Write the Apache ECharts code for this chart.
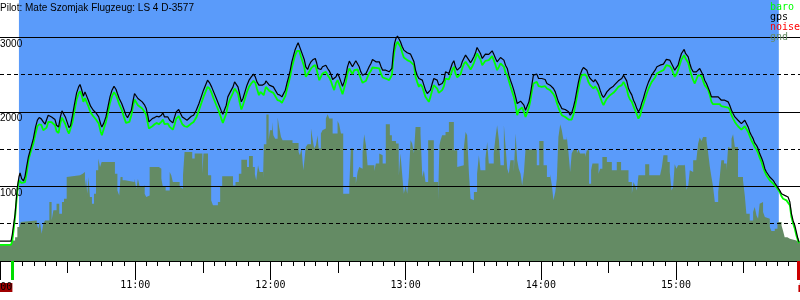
<!DOCTYPE html>
<html>
<head>
<meta charset="utf-8">
<script src="https://cdn.jsdelivr.net/npm/echarts@6/dist/echarts.min.js"></script>
<style>html,body{margin:0;padding:0;background:#fff}#c{width:800px;height:300px}</style>
</head>
<body>
<div id="c"></div>
<script>
// ---- data (minutes after 10:00, altitude in metres) ----
const titleText = 'Pilot: Mate Szomjak Flugzeug: LS 4 D-3577';
const legendNames = ['baro', 'gps', 'noise', 'gnd'];
const hourTicks = [0, 60, 120, 180, 240, 300];
const skyWindow = [8.4, 345.6];
const takeoffMinute = [5.5];
const landingMinute = [354.3];
const takeoffLabel = '10:00';
const landingLabel = '15:54';

const flightMinutes = [
0,4.9,5.5,6.7,7.7,8.4,8.9,9.6,10.4,11.1,11.8,12.6,13.6,14.8,15.8,16.6,17.4,18.3,19.2,20.0,20.7,21.4,22.2,22.9,23.7,24.4,25.1,26.0,26.8,27.5,28.1,29.0,29.9,30.6,31.3,32.2,33.1,34.0,34.9,35.5,36.1,37.0,37.7,38.4,39.2,40.2,41.4,42.6,43.8,44.7,45.2,46.1,47.0,47.9,48.8,49.7,50.6,51.5,52.1,52.9,54.0,55.0,55.9,56.6,57.4,58.3,59.1,
59.7,60.5,61.2,62.0,63.1,64.2,64.9,65.7,66.1,66.7,67.6,68.6,69.6,70.5,71.6,72.3,73.0,73.8,74.5,75.3,76.0,76.7,77.5,78.2,79.3,80.0,80.9,81.9,83.0,83.8,84.9,85.9,87.1,88.3,89.3,90.3,91.2,92.1,93.0,93.9,94.8,96.0,97.2,98.2,98.9,99.7,100.4,101.1,102.2,103.4,104.1,104.8,105.6,106.3,107.1,107.8,108.7,109.6,110.5,111.5,112.5,113.3,114.0,114.9,115.6,116.4,117.0,117.6,
118.0,118.7,119.5,120.2,121.3,122.1,123.2,124.2,125.1,125.8,126.6,127.3,128.1,128.8,129.5,130.3,131.0,131.8,132.3,132.8,133.5,134.3,135.0,135.7,136.5,137.2,138.0,139.0,139.9,140.5,141.1,141.7,142.4,143.1,143.9,144.6,145.4,146.1,146.8,147.6,148.3,149.1,149.8,150.5,151.3,152.0,152.7,153.5,154.2,155.0,155.7,156.4,157.2,157.9,158.7,159.4,160.1,160.9,161.6,162.4,163.1,163.8,164.6,165.3,166.1,166.8,167.5,168.3,169.0,169.8,170.5,171.2,172.0,172.7,173.5,173.9,174.5,175.1,175.7,176.4,177.1,
177.7,178.5,179.2,180.0,180.7,181.4,182.2,182.9,183.7,184.4,185.1,185.9,186.6,187.4,188.1,188.8,189.6,190.3,191.0,191.8,192.5,193.3,194.0,194.7,195.5,196.2,197.0,197.7,198.4,199.2,199.9,200.7,201.4,202.1,202.9,203.6,204.4,205.1,205.8,206.6,207.3,208.1,208.8,209.5,210.3,211.0,211.7,212.5,213.2,214.0,214.7,215.4,216.2,216.9,217.7,218.4,219.1,219.9,220.6,221.4,222.1,222.8,223.6,224.3,225.1,225.8,226.5,227.3,228.0,228.8,229.5,230.2,231.0,231.7,232.5,233.2,233.9,234.7,235.4,236.1,
236.7,237.5,238.2,239.0,239.7,240.4,241.2,241.9,242.7,243.4,244.1,244.9,245.6,246.4,247.1,247.8,248.6,249.3,250.0,250.8,251.5,252.3,253.0,253.7,254.5,255.2,256.0,256.7,257.4,258.2,258.9,259.7,260.4,261.1,261.9,262.6,263.4,264.1,264.8,265.6,266.3,267.1,267.8,268.5,269.3,270.0,270.7,271.5,272.2,273.0,273.7,274.4,275.2,275.9,276.7,277.4,278.1,278.9,279.6,280.4,281.1,281.8,282.6,283.3,284.1,284.8,285.5,286.3,287.0,287.8,288.5,289.2,290.0,290.7,291.5,292.2,292.9,293.7,294.4,295.1,
295.7,296.5,297.2,298.0,298.7,299.4,300.2,300.9,301.7,302.4,303.1,303.6,304.2,304.6,305.4,306.1,306.8,307.6,308.3,309.0,309.8,310.5,311.3,312.0,312.7,313.5,314.2,315.0,315.7,316.4,317.2,317.9,318.7,319.4,320.1,320.9,321.6,322.4,323.1,323.8,324.6,325.3,326.1,326.8,327.5,328.3,329.0,329.7,330.5,331.2,332.0,332.7,333.4,334.2,334.9,335.7,336.4,337.1,337.9,338.6,339.4,340.1,340.8,341.6,342.3,343.1,343.8,344.5,345.3,346.0,346.8,347.5,348.2,349.0,349.7,350.5,351.2,351.9,352.7,353.4,354.1,354.6
];

const gpsAlt = [
267,267,365,634,992,1126,1180,1104,1073,1135,1261,1395,1507,1641,1798,1888,1923,1906,1865,1834,1897,1955,1959,1932,1919,1897,1820,1798,1932,2013,2000,1932,1852,1789,1816,1955,2112,2255,2335,2367,2313,2210,2268,2255,2156,2076,2022,1986,1932,1834,1798,1852,1932,2067,2201,2291,2344,2300,2246,2179,2112,2031,1955,1923,1941,2022,2156,
2246,2255,2179,2156,2134,2089,2044,1932,1865,1888,1910,1923,1941,1932,1955,1986,1932,1910,1932,1888,1865,1852,1932,2000,2031,1986,1932,1910,1888,1910,1941,1955,2022,2112,2201,2291,2358,2425,2389,2335,2268,2179,2089,2013,1968,1977,2089,2201,2268,2335,2402,2389,2335,2246,2134,2179,2268,2358,2425,2470,2506,2470,2402,2358,2380,2358,2335,2380,
2416,2402,2358,2335,2335,2313,2237,2224,2201,2210,2291,2380,2470,2559,2671,2761,2837,2895,2926,2909,2828,2761,2703,2604,2568,2626,2671,2703,2716,2658,2582,2559,2568,2604,2604,2626,2582,2550,2506,2434,2412,2470,2515,2470,2402,2344,2402,2492,2604,2680,2658,2604,2649,2685,2671,2604,2537,2492,2470,2515,2559,2604,2649,2703,2694,2671,2694,2671,2613,2559,2559,2559,2550,2537,2515,2582,2783,2918,2985,3016,3007,
2940,2873,2828,2806,2792,2783,2774,2761,2671,2559,2492,2447,2470,2425,2358,2291,2246,2224,2291,2380,2447,2470,2425,2358,2358,2380,2425,2537,2559,2515,2524,2649,2685,2604,2559,2582,2604,2671,2716,2761,2738,2694,2658,2694,2738,2792,2864,2850,2783,2716,2738,2774,2783,2770,2783,2819,2774,2716,2671,2694,2729,2716,2694,2626,2582,2492,2425,2358,2291,2201,2112,2134,2143,2156,2089,2022,2076,2134,2246,2380,
2492,2515,2506,2447,2461,2447,2461,2434,2380,2389,2358,2344,2313,2268,2201,2134,2089,2044,2031,2031,2022,2000,1955,1986,2067,2156,2291,2402,2492,2559,2595,2582,2559,2492,2447,2425,2402,2434,2402,2358,2291,2224,2192,2224,2268,2291,2313,2335,2344,2371,2389,2416,2402,2447,2492,2492,2416,2313,2268,2224,2156,2112,2044,2000,2044,2120,2179,2268,2335,2402,2447,2492,2515,2559,2604,2626,2626,2635,2640,2658,
2703,2716,2694,2671,2604,2559,2582,2626,2716,2783,2806,2837,2783,2761,2738,2649,2582,2537,2515,2537,2559,2582,2568,2492,2425,2380,2358,2268,2201,2179,2201,2192,2201,2179,2156,2134,2156,2165,2134,2089,2022,1977,1932,1910,1888,1879,1843,1834,1888,1865,1798,1731,1686,1641,1583,1552,1507,1440,1386,1328,1238,1194,1171,1126,1104,1082,1046,1014,992,947,902,880,880,880,858,791,634,544,477,387,298,253
];

const baroAlt = [
217,217,276,589,947,1082,1095,1046,1028,1059,1171,1350,1462,1574,1709,1807,1834,1825,1753,1731,1789,1865,1888,1861,1843,1820,1740,1717,1852,1923,1910,1834,1753,1709,1731,1865,2022,2165,2246,2277,2237,2134,2183,2174,2076,1991,1941,1897,1843,1731,1686,1776,1865,1986,2120,2210,2264,2223,2174,2103,2031,1932,1852,1834,1865,1955,2089,
2165,2156,2089,2067,2044,2000,1955,1834,1776,1789,1807,1834,1852,1834,1865,1897,1834,1820,1843,1798,1776,1762,1834,1910,1941,1897,1834,1807,1798,1807,1843,1865,1923,2022,2112,2201,2268,2335,2313,2255,2179,2089,2000,1910,1852,1865,1977,2089,2179,2255,2313,2300,2246,2134,2031,2089,2179,2268,2335,2380,2416,2389,2313,2224,2268,2246,2224,2291,
2335,2322,2282,2268,2255,2237,2156,2147,2120,2134,2210,2300,2389,2479,2591,2685,2761,2819,2837,2819,2747,2671,2604,2470,2492,2537,2582,2613,2626,2568,2492,2425,2470,2515,2515,2537,2492,2461,2416,2344,2291,2389,2425,2371,2300,2237,2313,2402,2515,2582,2559,2506,2559,2582,2568,2506,2447,2389,2371,2416,2470,2515,2550,2595,2604,2591,2604,2582,2515,2461,2447,2447,2434,2425,2416,2492,2694,2828,2895,2940,2926,
2873,2792,2729,2703,2694,2685,2671,2658,2626,2470,2402,2335,2371,2335,2268,2201,2165,2134,2201,2291,2358,2380,2313,2255,2268,2291,2344,2447,2470,2434,2447,2559,2604,2515,2461,2447,2506,2582,2640,2671,2649,2604,2568,2604,2658,2716,2783,2761,2703,2626,2649,2685,2703,2694,2703,2747,2694,2626,2559,2604,2649,2640,2604,2524,2492,2416,2344,2268,2201,2089,1955,2022,2044,2058,2000,1932,1986,2058,2156,2291,
2380,2402,2402,2344,2358,2335,2358,2344,2313,2313,2291,2268,2237,2192,2120,2058,2000,1955,1941,1932,1923,1897,1879,1897,1968,2067,2201,2313,2425,2492,2515,2501,2470,2402,2358,2335,2313,2344,2313,2268,2201,2134,2089,2134,2179,2201,2224,2246,2255,2282,2300,2335,2313,2358,2402,2402,2313,2210,2165,2134,2076,2022,1968,1910,1955,2044,2103,2179,2246,2313,2358,2402,2434,2461,2515,2537,2537,2550,2559,2582,
2626,2649,2613,2582,2524,2470,2506,2559,2640,2703,2729,2761,2716,2694,2658,2568,2492,2425,2380,2434,2492,2506,2479,2416,2358,2335,2300,2224,2134,2103,2089,2103,2120,2103,2076,2058,2067,2089,2058,2031,1955,1910,1865,1834,1807,1798,1762,1753,1807,1798,1731,1673,1619,1574,1530,1494,1449,1386,1328,1261,1194,1149,1117,1082,1059,1037,1014,992,970,925,867,835,813,813,813,746,589,508,432,343,276,240
];

const noiseAlt = [];

const gndMinutes = [
0,5.2,6.7,7.7,8.6,9.2,9.8,16.3,17.0,17.7,18.5,19.2,20.0,21.9,22.9,23.7,25.1,26.3,27.5,28.4,29.6,30.3,35.5,36.7,37.7,38.2,38.7,39.3,39.9,40.8,41.7,42.6,43.6,44.4,45.1,51.0,52.1,52.9,53.5,54.4,55.5,
59.7,60.5,61.2,62.0,63.1,64.2,64.9,65.7,66.4,70.5,71.6,72.3,73.5,75.3,76.0,76.7,79.7,80.4,81.2,81.9,85.3,86.4,89.8,90.3,92.3,93.7,94.5,96.7,97.7,98.6,103.4,104.5,106.0,107.1,109.6,110.5,112.2,113.1,113.7,114.5,115.2,116.7,117.1,
118.2,119.2,119.8,120.7,121.3,122.1,123.2,123.9,124.7,125.4,129.8,132.5,133.1,133.8,134.6,135.0,135.7,136.5,138.0,138.7,139.4,140.2,140.9,141.4,142.4,143.1,143.9,144.6,145.4,146.1,147.6,149.8,150.5,151.3,152.3,155.0,155.7,156.7,157.9,158.7,159.4,160.1,160.9,161.6,162.4,163.1,166.1,166.8,168.3,169.0,169.8,171.2,173.0,173.9,175.7,176.9,
177.0,177.7,178.5,179.2,180.0,180.7,181.4,182.2,182.9,183.7,184.4,186.6,187.4,188.1,188.8,190.0,192.5,194.4,195.0,195.5,196.2,197.7,199.2,201.4,202.9,203.6,205.8,206.6,207.3,208.1,208.8,209.5,210.3,211.7,212.5,213.2,215.4,216.2,216.9,219.1,219.9,220.6,221.4,222.1,223.6,224.3,225.1,225.8,226.5,228.0,228.8,229.5,230.2,231.0,231.7,232.5,233.2,
236.0,238.2,239.3,241.2,242.7,244.1,244.9,245.6,246.4,247.1,247.8,248.6,249.3,250.0,251.5,252.3,253.0,253.7,254.5,256.0,256.7,257.4,259.7,260.4,261.4,262.3,262.9,265.6,266.3,267.3,269.3,271.5,273.7,275.6,278.9,280.4,281.1,281.8,282.6,283.3,286.3,288.1,292.9,293.7,294.4,
296.2,297.2,298.0,298.7,299.4,300.2,300.9,303.9,304.6,305.4,306.1,306.8,307.6,309.0,309.8,310.5,311.3,312.0,313.5,314.2,315.0,315.7,316.4,317.2,318.7,319.4,320.1,321.3,322.4,323.1,323.8,324.6,325.3,326.1,327.5,329.7,330.5,331.2,332.7,334.2,334.9,335.7,336.4,337.1,337.9,338.6,339.4,340.1,341.6,342.3,343.8,345.0,346.8,347.5,348.2,349.4,350.5,353.4,355
];

const gndAlt = [
217,276,320,455,477,522,544,499,432,522,365,499,544,790,544,679,768,634,790,835,1126,1149,1171,1194,992,1104,902,1126,858,768,902,1216,1373,1261,1328,1171,947,880,1126,1082,1059,
1104,970,1104,992,1014,902,858,880,1261,1238,1104,992,947,1194,1149,1059,992,970,1149,1462,1373,1440,1171,1440,1149,813,746,790,992,1135,1014,1059,1171,1359,1261,1408,1261,1162,1082,1283,1194,1082,1565,
1965,1619,1753,1865,1686,1641,1923,1789,1664,1619,1583,1462,1417,1507,1216,1328,1529,1565,1776,1641,1507,1552,1686,1507,1709,1753,1776,1910,1968,1910,1709,1879,1834,1709,902,1014,1507,1126,1037,1194,1261,1238,1462,1700,1552,1283,1207,1306,1440,1417,1306,1834,1686,1610,1574,1597,
1149,1440,1149,902,1014,902,1126,1619,1574,1440,1798,1709,1126,1216,1059,1619,1059,813,1552,1619,1686,1731,1865,1485,1261,1283,1507,1731,1686,1171,835,813,925,1171,1417,1216,1373,1597,1306,1440,1664,1820,1619,1283,1820,1552,1238,1171,1350,1194,1709,1350,1238,1171,1014,1194,1498,
1494,1283,1610,1283,1126,1162,1014,813,925,1104,1664,1834,1753,1628,1673,1440,1194,1440,1494,1440,1494,1440,1395,1485,1037,1216,1306,1171,1238,1395,1328,1216,1328,1216,1059,902,1059,1014,947,1149,1296,1149,1171,1261,1417,
1328,1194,947,992,1296,1238,1283,1314,956,1014,1216,1194,1350,1328,1574,1655,1610,1664,1619,1462,1261,1126,1001,790,925,1126,1350,1306,1216,1529,1507,1641,1700,1529,1126,1082,880,634,544,656,723,611,567,768,790,656,589,567,455,401,432,522,477,401,320,298,276,253,253
];

// ---- build ----
function pairs(xs, ys) {
  const n = Math.min(xs.length, ys.length);
  const out = [];
  for (let i = 0; i < n; i++) out.push([xs[i], ys[i]]);
  return out;
}
const X_MIN = 0, X_MAX = 355;
const SKY = '#5a9bfa', GND = '#648b64';
const mono = 'DejaVu Sans Mono';

function tickAxis(interval, len, extra) {
  return Object.assign({
    type: 'value', min: X_MIN, max: X_MAX, interval: interval, position: 'bottom',
    axisLine: { show: false }, splitLine: { show: false },
    axisLabel: { show: false },
    axisTick: { show: true, length: len, lineStyle: { color: '#000', width: 1 } },
    z: 3
  }, extra || {});
}

const chart = echarts.init(document.getElementById('c'), null, { renderer: 'canvas' });
chart.setOption({
  animation: false,
  backgroundColor: '#fff',
  title: {
    text: titleText, left: 0, top: 3, padding: 0,
    textStyle: { fontFamily: 'Liberation Sans', fontSize: 10, fontWeight: 'normal', color: '#000' }
  },
  legend: {
    orient: 'vertical', left: 765, top: 2, padding: 0, itemGap: 0,
    itemWidth: 0, itemHeight: 0, icon: 'rect', selectedMode: false,
    textStyle: { fontFamily: mono, fontSize: 10, lineHeight: 10 },
    data: [
      { name: legendNames[0], textStyle: { color: '#00ff00' } },
      { name: legendNames[1], textStyle: { color: '#000000' } },
      { name: legendNames[2], textStyle: { color: '#ff0000' } },
      { name: legendNames[3], textStyle: { color: GND } }
    ]
  },
  grid: { left: 0, right: 0, top: 0, bottom: 39, containLabel: false, outerBoundsMode: 'none' },
  xAxis: [
    tickAxis(5, 5, { axisLine: { show: true, lineStyle: { color: '#000', width: 1 } } }),
    tickAxis(30, 12),
    tickAxis(60, 19, {
      axisLabel: {
        show: true, margin: 19, fontFamily: mono, fontSize: 10, color: '#000',
        formatter: function (v) {
          if (hourTicks.indexOf(v) < 0 || v === 0) return '';
          return (10 + v / 60) + ':00';
        }
      }
    }),
    tickAxis(5, 19, {
      axisTick: { show: true, customValues: takeoffMinute, length: 19, lineStyle: { color: '#00dd00', width: 3 } },
      axisLabel: {
        show: true, customValues: takeoffMinute, align: 'right', margin: 22,
        fontFamily: mono, fontSize: 10, lineHeight: 9, color: '#000', backgroundColor: '#a00000',
        formatter: function () { return takeoffLabel; }
      }
    }),
    tickAxis(5, 19, {
      axisTick: { show: true, customValues: landingMinute, length: 19, lineStyle: { color: '#cc0000', width: 3 } },
      axisLabel: {
        show: true, customValues: landingMinute, align: 'left', margin: 24,
        fontFamily: mono, fontSize: 10, lineHeight: 7, color: '#000', backgroundColor: '#cc0000',
        formatter: function () { return landingLabel; }
      }
    })
  ],
  yAxis: [
    {
      type: 'value', min: 0, max: 3500, interval: 1000, z: 3,
      axisLine: { show: false }, axisTick: { show: false },
      splitLine: { show: true, showMaxLine: false, lineStyle: { color: '#000', width: 1 } },
      axisLabel: {
        inside: true, margin: 0, verticalAlign: 'top', lineHeight: 13,
        fontFamily: 'Liberation Sans', fontSize: 10, color: '#000',
        formatter: function (v) { return (v > 0 && v % 1000 === 0) ? String(v) : ''; }
      }
    },
    {
      type: 'value', min: 0, max: 3500, interval: 500, z: 3,
      axisLine: { show: false }, axisTick: { show: false }, axisLabel: { show: false },
      splitLine: { show: true, showMaxLine: false, lineStyle: { color: '#000', width: 1, type: [4, 3] } }
    }
  ],
  series: [
    {
      name: 'gnd', type: 'line', step: 'end', symbol: 'none', z: 2,
      data: pairs(gndMinutes, gndAlt),
      lineStyle: { width: 0, color: GND }, itemStyle: { color: GND },
      areaStyle: { color: GND, opacity: 1 },
      markArea: {
        silent: true, z: 1,
        itemStyle: { color: SKY, opacity: 1 },
        data: [[{ xAxis: skyWindow[0] }, { xAxis: skyWindow[1] }]]
      }
    },
    {
      name: 'noise', type: 'line', symbol: 'none', z: 4,
      data: noiseAlt, lineStyle: { color: '#ff0000', width: 1 }, itemStyle: { color: '#ff0000' }
    },
    {
      name: 'baro', type: 'line', symbol: 'none', z: 4,
      data: pairs(flightMinutes, baroAlt),
      lineStyle: { color: '#00ff00', width: 1.8 }, itemStyle: { color: '#00ff00' }
    },
    {
      name: 'gps', type: 'line', symbol: 'none', z: 5,
      data: pairs(flightMinutes, gpsAlt),
      lineStyle: { color: '#000000', width: 1.2 }, itemStyle: { color: '#000000' }
    }
  ]
});
</script>
</body>
</html>
